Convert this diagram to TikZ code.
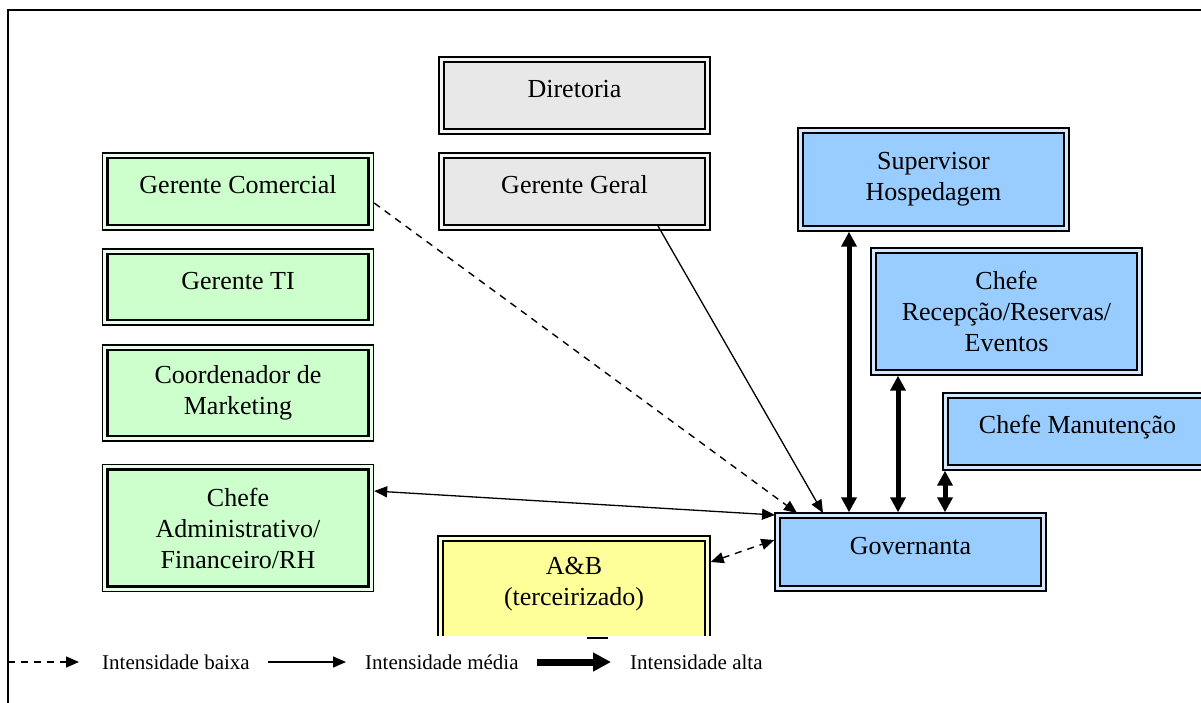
\documentclass[tikz,border=0pt]{standalone}
\usepackage{fontspec}
\setmainfont{Liberation Serif}
\usetikzlibrary{arrows.meta}
\definecolor{boxgray}{HTML}{E8E8E8}
\definecolor{boxgreen}{HTML}{CCFFCC}
\definecolor{boxblue}{HTML}{99CCFF}
\definecolor{boxyellow}{HTML}{FFFF99}
\tikzset{
  orgbox/.style={draw=black, line width=1.4pt, fill=#1!45!white,
    minimum width=271pt, inner sep=0pt, align=center,
    font=\fontsize{26}{31}\selectfont,
    path picture={\draw[line width=2.6pt, fill=#1]
      ([shift={(5pt,5pt)}]path picture bounding box.south west) rectangle
      ([shift={(-5pt,-5pt)}]path picture bounding box.north east);}},
  oneline/.style={text height=14pt, text depth=10pt},
  tip/.style={-{Triangle[length=13pt,width=11pt]}},
  bitip/.style={{Triangle[length=13pt,width=11pt]}-{Triangle[length=13pt,width=11pt]}},
  bigtip/.style={{Triangle[length=15pt,width=15pt]}-{Triangle[length=15pt,width=15pt]}},
  low/.style={line width=1.4pt, dash pattern=on 7pt off 6pt},
  mid/.style={line width=1.3pt},
  high/.style={line width=5pt},
  legtext/.style={font=\fontsize{21}{24}\selectfont, anchor=west, inner sep=0pt}
}
\begin{document}
\begin{tikzpicture}[x=1pt,y=-1pt]
\useasboundingbox (0,0) rectangle (1201,702);
\fill[white] (0,0) rectangle (1201,702);
% frame
\draw[line width=1.6pt] (8,750) -- (8,10) -- (1250,10);

% top management
\node[orgbox=boxgray, oneline, minimum height=77pt] (dir) at (574.5,95.5) {Diretoria};
\node[orgbox=boxgray, oneline, minimum height=77pt] (gg) at (574.5,191.5) {Gerente Geral};

% left column
\node[orgbox=boxgreen, oneline, minimum height=77pt] (gc) at (238,191.5) {Gerente Comercial};
\node[orgbox=boxgreen, oneline, minimum height=76pt] (gti) at (238,287) {Gerente TI};
\node[orgbox=boxgreen, minimum height=96pt] (mkt) at (238,393) {Coordenador de\\Marketing};
\node[orgbox=boxgreen, minimum height=127pt] (adm) at (238,528) {Chefe\\Administrativo/\\Financeiro/RH};

% right column
\node[orgbox=boxblue, minimum height=103pt] (sup) at (933.5,179.5) {Supervisor\\Hospedagem};
\node[orgbox=boxblue, minimum height=127pt] (rec) at (1006.5,311.5) {Chefe\\Recepção/Reservas/\\Eventos};
\node[orgbox=boxblue, oneline, minimum width=269pt, minimum height=77pt] (man) at (1077.5,431.5) {Chefe Manutenção};
\node[orgbox=boxblue, oneline, minimum height=78pt] (gov) at (910.5,552) {Governanta};

% outsourced food & beverage (box runs past the lower edge of the sheet)
\begin{scope}
  \clip (400,500) rectangle (750,635.5);
  \node[orgbox=boxyellow, minimum width=272pt, minimum height=130pt] (ab) at (574,601) {};
\end{scope}
\node[font=\fontsize{26}{31}\selectfont, align=center, inner sep=0pt] (abtext) at (574,584) {A\&B\\(terceirizado)};
\draw[line width=2.5pt] (587,638) coordinate (barA) -- (608,638) coordinate (barB);

% relations to Governanta
\draw[low, tip] (gc.east |- 0,203) coordinate (gcA) -- (797,513) coordinate (gcB);
\draw[mid, tip] (658,226) coordinate (ggA) -- (823,513) coordinate (ggB);
\draw[high, bigtip] (sup.south -| 849,0) -- (gov.north -| 849,0);
\draw[high, bigtip] (rec.south -| 898,0) -- (gov.north -| 898,0);
\draw[high, bigtip] (man.south -| 945,0) -- (gov.north -| 945,0);
\draw[mid, bitip] (adm.east |- 0,491) -- (775,515) coordinate (admB);
\draw[low, bitip] (ab.east |- 0,562) -- (gov.west |- 0,540);

% legend
\coordinate (l1a) at (8,662);
\coordinate (l1b) at (79,662);
\draw[low, tip] (l1a) -- (l1b);
\node[legtext] (t1) at (102,662) {Intensidade baixa};
\coordinate (l2a) at (268,662);
\coordinate (l2b) at (346,662);
\draw[mid, tip] (l2a) -- (l2b);
\node[legtext] (t2) at (365,662) {Intensidade média};
\coordinate (l3a) at (537,662);
\coordinate (l3b) at (611,662);
\draw[line width=7pt, -{Triangle[length=18pt,width=18pt]}] (l3a) -- (l3b);
\node[legtext] (t3) at (630,662) {Intensidade alta};
\end{tikzpicture}
\end{document}
